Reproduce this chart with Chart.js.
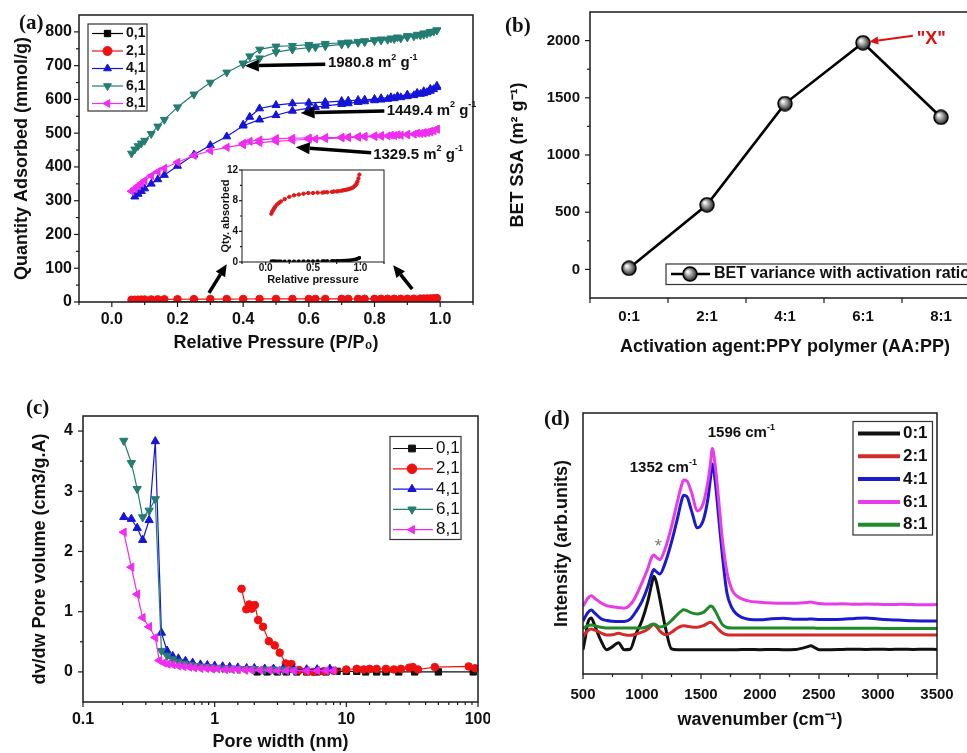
<!DOCTYPE html>
<html>
<head>
<meta charset="utf-8">
<title>BET / pore / Raman figure</title>
<script src="https://cdn.jsdelivr.net/npm/chart.js@4.4.0/dist/chart.umd.min.js"></script>
<style>
	body { margin: 0; width: 967px; height: 753px; overflow: hidden; background: #fff; position: relative; }
	canvas { position: absolute; }
	.tag { position: absolute; font: bold 21px "Liberation Serif", "DejaVu Serif", serif; color: #111; }
</style>
</head>
<body>
<canvas id="chartA" width="483" height="370" style="left:0;top:0"></canvas>
<canvas id="chartInset" width="176" height="127" style="left:214px;top:160px"></canvas>
<canvas id="chartB" width="510" height="370" style="left:483px;top:0"></canvas>
<canvas id="chartC" width="490" height="378" style="left:0;top:375px"></canvas>
<canvas id="chartD" width="477" height="378" style="left:490px;top:375px"></canvas>
<div class="tag" style="left:19px;top:10px">(a)</div>
<div class="tag" style="left:505px;top:13px">(b)</div>
<div class="tag" style="left:26px;top:395px">(c)</div>
<div class="tag" style="left:544px;top:406px">(d)</div>

<script>
// ---- (a) N2 isotherms: relative pressure grid, adsorption then desorption ----
var P_ADS = [0.06,0.07,0.08,0.09,0.10,0.12,0.14,0.16,0.20,0.25,0.30,0.35,0.40,0.45,0.50,0.55,0.60,0.62,0.65,0.70,0.72,0.75,0.77,0.80,0.82,0.84,0.86,0.88,0.90,0.92,0.94,0.95,0.96,0.97,0.98,0.99];
var P_DES = [0.99,0.97,0.95,0.93,0.90,0.87,0.85,0.82,0.80,0.77,0.75,0.72,0.70,0.65,0.60,0.55,0.50,0.45,0.42,0.40];

var ads01 = [0.10,0.10,0.10,0.10,0.10,0.10,0.10,0.10,0.10,0.11,0.11,0.11,0.12,0.12,0.12,0.13,0.13,0.13,0.14,0.15,0.15,0.16,0.17,0.18,0.19,0.20,0.21,0.23,0.25,0.28,0.32,0.35,0.38,0.42,0.48,0.55];
var ads21 = [6.3,6.6,6.8,7.0,7.2,7.5,7.7,7.9,8.2,8.5,8.7,8.8,8.9,9.0,9.0,9.05,9.05,9.1,9.1,9.15,9.2,9.2,9.25,9.3,9.35,9.4,9.45,9.5,9.6,9.7,9.9,10.0,10.2,10.5,10.9,11.4];
var ads41 = [null,312,320,328,336,350,363,376,403,436,464,490,522,540,553,566,574,577,581,586,588,592,594,597,599,601,603,606,609,612,616,618,621,625,630,636];
var des41 = [640,631,624,619,614,609,606,603,601,599,598,596,595,592,590,588,583,573,548,525];
var ads61 = [440,452,462,470,478,498,520,540,577,615,650,680,705,722,740,748,753,755,758,763,765,768,770,773,775,777,779,781,784,787,790,792,795,798,801,805];
var des61 = [805,800,796,792,788,784,781,778,776,773,771,769,767,765,762,759,757,748,728,707];
var ads81 = [328,336,344,352,360,374,386,396,414,434,448,458,466,472,476,479,482,483,484,486,487,488,489,490,491,492,493,494,495,497,499,500,502,504,507,512];
var des81 = [512,506,502,500,497,495,494,493,492,491,490,489,488,487,486,485,484,480,476,470];

// ---- (b) BET surface area vs activation ratio ----
var RATIOS = ['0:1','2:1','4:1','6:1','8:1'];
var BET_SSA = [10, 565, 1449.4, 1980.8, 1329.5];

// ---- (c) pore size distribution ----
var PW01 = [2.1,2.5,3.0,3.5,4.2,5.0,6.0,7.0,8.5,10,12,14,17,20,25,33,50,92];
var DV01 = [0,0,0,0,0,0,0,0,0.01,0.01,0.01,0,0,0,0,0,0,0];
var PW21 = [1.60,1.74,1.83,1.91,2.02,2.14,2.33,2.58,2.86,3.12,3.47,3.83,4.38,5.0,5.6,6.7,8.0,10,12,13.5,15,17,20,23,26,30,32,35,47,85,95];
var DV21 = [1.38,1.04,1.12,1.05,1.11,0.86,0.75,0.51,0.44,0.32,0.14,0.13,0.03,0.01,0.00,0.01,0.02,0.04,0.05,0.04,0.05,0.05,0.05,0.04,0.05,0.07,0.08,0.04,0.08,0.09,0.06];
var PW41 = [0.204,0.233,0.258,0.284,0.318,0.354,0.394,0.435,0.48,0.53,0.60,0.68,0.78,0.88,1.0,1.15,1.3,1.5,1.75,2.0,2.4,2.8,3.3,4.0,5.0,6.0,7.5];
var DV41 = [2.57,2.54,2.39,2.19,2.52,3.83,0.65,0.35,0.26,0.22,0.18,0.15,0.12,0.11,0.10,0.09,0.08,0.07,0.06,0.06,0.05,0.05,0.05,0.04,0.04,0.04,0.05];
var PW61 = [0.204,0.233,0.258,0.284,0.318,0.354,0.394,0.435,0.48,0.53,0.58,0.65,0.72,0.80,0.90,1.0,1.15,1.3,1.5,1.75,2.0,2.4,2.8,3.3,4.0];
var DV61 = [3.84,3.47,3.04,2.57,2.68,2.87,0.35,0.27,0.21,0.17,0.14,0.12,0.10,0.09,0.08,0.07,0.06,0.06,0.05,0.05,0.05,0.04,0.04,0.04,0.03];
var PW81 = [0.204,0.233,0.258,0.284,0.318,0.354,0.38,0.41,0.44,0.48,0.53,0.58,0.64,0.70,0.78,0.86,0.95,1.05,1.2,1.35,1.5,1.7,1.9,2.2,2.6,3.0,3.5,4.0,5.0,6.0,7.0,8.0];
var DV81 = [2.32,1.74,1.29,0.90,0.75,0.57,0.19,0.15,0.13,0.12,0.10,0.09,0.08,0.07,0.06,0.06,0.05,0.05,0.04,0.04,0.04,0.03,0.03,0.03,0.03,0.02,0.02,0.02,0.02,0.02,0.02,0.02];

// ---- (d) Raman spectra (arbitrary units, stacked) ----
var WN = [500,520,540,570,600,650,700,750,800,850,900,950,1000,1050,1080,1100,1120,1150,1200,1250,1300,1330,1352,1380,1420,1470,1520,1560,1580,1596,1620,1650,1680,1720,1760,1800,1900,2000,2100,2200,2300,2400,2430,2460,2500,2600,2700,2800,2900,3000,3100,3200,3300,3400,3500];
var RAMAN_01 = [9.3,14,19.5,21.5,18.5,13,9.3,10.5,12,9.3,9.5,15.5,20.5,28,34,37.5,35.5,29,17.5,9.6,9.3,9.3,9.3,9.3,9.3,9.3,9.3,9.3,9.3,9.3,9.3,9.3,9.3,9.3,9.3,9.3,9.4,9.3,9.4,9.3,9.4,10.4,10.8,10.2,9.3,9.3,9.4,9.5,9.4,9.5,9.4,9.5,9.4,9.5,9.4];
var RAMAN_21 = [14.2,15.5,16.5,17.2,16.8,15.8,14.9,15.0,15.6,15.0,14.8,15.3,16.0,17.2,18.5,19.0,18.3,16.5,15.0,16.0,17.6,18.3,18.5,18.3,18.0,17.9,18.5,19.5,19.8,19.5,18.5,17.0,15.8,15.0,14.9,14.9,14.9,14.9,14.9,14.9,14.9,14.9,14.9,14.9,14.9,14.9,14.9,14.9,14.9,14.9,14.9,14.9,14.9,14.9,14.9];
var RAMAN_41 = [20.3,22,23.5,24.5,23.3,21.3,20.5,20.2,20.1,20.1,21,24,27.8,33.5,38,40,39.3,38.3,43,50.5,59.5,65.5,68.5,68,62.5,56,59,67.5,75,80.5,74,60,46,31,25.5,23,21,20.8,21.2,21.4,21.0,21.0,21.1,21.0,20.9,20.9,21.0,21.3,21.5,21.1,20.8,20.6,20.4,20.3,20.3];
var RAMAN_61 = [26,27.5,29,30,29,27.3,26.2,25.8,25.5,25.2,26.5,30,35,40.5,44.5,45.6,44.8,43.8,48.5,56.5,66,71.5,74.3,74,69.5,62.5,65.5,74,80.5,86.4,80,66.5,52,39,32.5,30,28,27.5,27.2,27.1,27.1,27.4,27.6,27.3,27.0,26.8,26.9,26.7,26.8,26.7,26.6,26.7,26.6,26.5,26.6];
var RAMAN_81 = [17.5,18.0,18.5,18.8,18.5,17.9,17.6,17.6,17.6,17.6,17.6,17.6,17.6,18.2,19.0,19.2,18.8,18.0,18.6,20.5,22.8,24,24.6,24.3,23.4,23.0,23.6,25.3,26.1,25.8,24.2,21.5,19.0,17.8,17.6,17.6,17.6,17.6,17.6,17.6,17.6,17.6,17.6,17.6,17.5,17.5,17.5,17.5,17.5,17.5,17.4,17.4,17.4,17.4,17.4];

var FAMILY = '"Liberation Sans", Arial, Helvetica, sans-serif';
Chart.defaults.font.family = FAMILY;
Chart.defaults.color = '#111';

function pts(xs, ys) {
	var out = [];
	xs.forEach(function(x, i) {
		if (ys[i] !== null) out.push({ x: x, y: ys[i] });
	});
	return out;
}

function majorOnly(step, fmt) {
	return function(v) {
		var q = v / step;
		return Math.abs(q - Math.round(q)) < 1e-6 ? fmt(v) : '';
	};
}

function axis(o) {
	return {
		type: o.type || 'linear',
		min: o.min,
		max: o.max,
		offset: !!o.offset,
		grid: { display: false, drawTicks: false, offset: !!o.offset },
		border: { display: false },
		ticks: {
			display: o.showTicks !== false,
			stepSize: o.step,
			includeBounds: false,
			autoSkip: false,
			maxRotation: 0,
			padding: o.pad,
			color: '#111',
			font: { size: o.size || 16, weight: 'bold' },
			callback: o.label || function(v) { return this.getLabelForValue(v); }
		},
		title: {
			display: !!o.title,
			text: o.title,
			color: '#111',
			font: { size: o.tsize || 18, weight: 'bold' },
			padding: o.tpad
		},
		afterFit: function(s) {
			if (s.isHorizontal()) s.height = o.fit; else s.width = o.fit;
			s.paddingLeft = s.paddingRight = s.paddingTop = s.paddingBottom = 0;
		}
	};
}

// frame round the plot plus outward major / minor tick marks
var frameTicks = {
	id: 'frameTicks',
	afterDraw: function(chart, args, o) {
		var ctx = chart.ctx, a = chart.chartArea;
		var major = o.major || 5, minor = o.minor || 3;
		ctx.save();
		ctx.strokeStyle = '#1a1a1a';
		ctx.lineWidth = o.lineWidth || 1.5;
		ctx.strokeRect(a.left, a.top, a.right - a.left, a.bottom - a.top);
		ctx.lineWidth = 1.2;
		(o.axes || ['x', 'y']).forEach(function(id) {
			var s = chart.scales[id], marks = [];
			if (s.type === 'category') {
				for (var i = 0; i <= s.ticks.length; i++) marks.push({ p: s.getPixelForValue(i - 0.5), len: major });
			} else {
				s.ticks.forEach(function(t) {
					marks.push({ p: s.getPixelForValue(t.value), len: t.label === '' ? minor : major });
				});
			}
			marks.forEach(function(m) {
				if (id === 'x') {
					if (m.p < a.left - 0.5 || m.p > a.right + 0.5) return;
					ctx.beginPath(); ctx.moveTo(m.p, a.bottom); ctx.lineTo(m.p, a.bottom + m.len); ctx.stroke();
				} else {
					if (m.len === minor && (Math.abs(m.p - a.top) < 1 || Math.abs(m.p - a.bottom) < 1)) return;
					ctx.beginPath(); ctx.moveTo(a.left, m.p); ctx.lineTo(a.left - m.len, m.p); ctx.stroke();
				}
			});
		});
		ctx.restore();
	}
};

// legend drawn inside the plot, in a thin box
var boxLegend = {
	id: 'boxLegend',
	afterDraw: function(chart, args, o) {
		if (!o.box) return;
		var ctx = chart.ctx;
		ctx.save();
		ctx.fillStyle = '#fff';
		ctx.fillRect(o.box[0], o.box[1], o.box[2], o.box[3]);
		ctx.strokeStyle = '#333';
		ctx.lineWidth = 1.2;
		ctx.strokeRect(o.box[0], o.box[1], o.box[2], o.box[3]);
		ctx.textBaseline = 'middle';
		ctx.textAlign = 'left';
		chart.data.datasets.forEach(function(ds, i) {
			var y = o.first + i * o.rowH;
			ctx.strokeStyle = ds.borderColor;
			ctx.lineWidth = o.lineWidth || ds.borderWidth;
			ctx.beginPath(); ctx.moveTo(o.line[0], y); ctx.lineTo(o.line[1], y); ctx.stroke();
			if (o.markerR) {
				ctx.fillStyle = ds.pointBackgroundColor;
				ctx.strokeStyle = ds.pointBorderColor || ds.borderColor;
				ctx.lineWidth = 1;
				Chart.helpers.drawPoint(ctx, { pointStyle: ds.pointStyle, rotation: ds.pointRotation || 0, radius: o.markerR, borderWidth: 1 }, o.marker, y);
			}
			ctx.fillStyle = '#111';
			ctx.font = o.font;
			ctx.fillText(ds.label, o.text, y);
		});
		ctx.restore();
	}
};

function drawArrow(ctx, x0, y0, x1, y1, w, hl, hw, color) {
	var ang = Math.atan2(y1 - y0, x1 - x0);
	var bx = x1 - hl * Math.cos(ang), by = y1 - hl * Math.sin(ang);
	ctx.strokeStyle = color; ctx.fillStyle = color; ctx.lineWidth = w;
	ctx.beginPath(); ctx.moveTo(x0, y0); ctx.lineTo(bx, by); ctx.stroke();
	ctx.beginPath(); ctx.moveTo(x1, y1);
	ctx.lineTo(bx + hw * Math.sin(ang), by - hw * Math.cos(ang));
	ctx.lineTo(bx - hw * Math.sin(ang), by + hw * Math.cos(ang));
	ctx.closePath(); ctx.fill();
}

// arrows and labels placed in data coordinates
var notes = {
	id: 'notes',
	afterDatasetsDraw: function(chart, args, o) {
		var ctx = chart.ctx, sx = chart.scales.x, sy = chart.scales.y;
		ctx.save();
		(o.arrows || []).forEach(function(a) {
			drawArrow(ctx, sx.getPixelForValue(a.from[0]), sy.getPixelForValue(a.from[1]),
				sx.getPixelForValue(a.to[0]), sy.getPixelForValue(a.to[1]),
				a.width || 3.5, a.head || 14, a.half || 6, a.color || '#000');
		});
		(o.texts || []).forEach(function(t) {
			var x = sx.getPixelForValue(t.at[0]), y = sy.getPixelForValue(t.at[1]);
			ctx.fillStyle = t.color || '#111';
			ctx.textBaseline = 'middle';
			ctx.textAlign = 'left';
			t.parts.forEach(function(p) {
				var sup = p[1];
				ctx.font = (t.weight || 'bold') + ' ' + (sup ? Math.round(t.size * 0.6) : t.size) + 'px ' + FAMILY;
				ctx.fillText(p[0], x, sup ? y - t.size * 0.38 : y);
				x += ctx.measureText(p[0]).width;
			});
		});
		ctx.restore();
	}
};

Chart.register(frameTicks, boxLegend, notes);

function sphere(r) {
	var c = document.createElement('canvas');
	c.width = c.height = 2 * r + 2;
	var g = c.getContext('2d');
	var grad = g.createRadialGradient(r + 1 - r * 0.35, r + 1 - r * 0.35, 0.5, r + 1, r + 1, r);
	grad.addColorStop(0, '#ffffff');
	grad.addColorStop(0.45, '#a0a0a0');
	grad.addColorStop(1, '#222');
	g.fillStyle = grad;
	g.beginPath(); g.arc(r + 1, r + 1, r, 0, Math.PI * 2); g.fill();
	g.lineWidth = 1.5; g.strokeStyle = '#000'; g.stroke();
	return c;
}

function series(label, color, data, style, rot, r, order, lw) {
	return {
		label: label, data: data, borderColor: color, backgroundColor: color,
		pointBackgroundColor: color, pointBorderColor: color,
		pointStyle: style, pointRotation: rot || 0, pointRadius: r, pointBorderWidth: 1,
		borderWidth: lw || 1.2, order: order, tension: 0
	};
}

var base = {
	responsive: false,
	devicePixelRatio: 1,
	animation: false,
	events: []
};

var C_BLACK = '#000000', C_RED = '#f01010', C_BLUE = '#1515d8', C_TEAL = '#237d72', C_MAG = '#f02cf0';

// (a)
new Chart(document.getElementById('chartA'), {
	type: 'line',
	data: {
		datasets: [
			series('0,1', C_BLACK, pts(P_ADS, ads01), 'rect', 0, 4, 5),
			series('2,1', C_RED, pts(P_ADS, ads21), 'circle', 0, 3.8, 4),
			series('4,1', C_BLUE, pts(P_ADS.concat(P_DES), ads41.concat(des41)), 'triangle', 0, 4.6, 3),
			series('6,1', C_TEAL, pts(P_ADS.concat(P_DES), ads61.concat(des61)), 'triangle', 180, 4.6, 2),
			series('8,1', C_MAG, pts(P_ADS.concat(P_DES), ads81.concat(des81)), 'triangle', 270, 4.6, 1)
		]
	},
	options: Object.assign({}, base, {
		layout: { padding: { left: 0, top: 15, right: 10, bottom: 0 } },
		scales: {
			x: axis({ min: -0.1, max: 1.1, step: 0.1, pad: 8, size: 16, fit: 68, tpad: 16,
				title: 'Relative Pressure (P/P\u2080)', label: majorOnly(0.2, function(v) { return v.toFixed(1); }) }),
			y: axis({ min: 0, max: 850, step: 50, pad: 7, size: 16, fit: 79, tpad: 11,
				title: 'Quantity Adsorbed (mmol/g)', label: majorOnly(100, function(v) { return String(v); }) })
		},
		plugins: {
			legend: { display: false }, tooltip: { enabled: false },
			boxLegend: { box: [88, 24, 59, 87], first: 33.5, rowH: 17.5, line: [92, 123], marker: 107.5, markerR: 4.5,
				text: 126, font: 'bold 14px ' + FAMILY, lineWidth: 1.2 },
			notes: {
				arrows: [
					{ from: [0.65, 704], to: [0.405, 700] },
					{ from: [0.83, 566], to: [0.575, 560] },
					{ from: [0.79, 442], to: [0.56, 458] },
					{ from: [0.296, 27], to: [0.35, 112], width: 3.5, head: 12, half: 5.5 },
					{ from: [0.915, 38], to: [0.857, 109], width: 3.5, head: 12, half: 5.5 }
				],
				texts: [
					{ at: [0.658, 707], size: 15, parts: [['1980.8 m'], ['2', 1], [' g'], ['-1', 1]] },
					{ at: [0.837, 567], size: 15, parts: [['1449.4 m'], ['2', 1], [' g'], ['-1', 1]] },
					{ at: [0.796, 437], size: 15, parts: [['1329.5 m'], ['2', 1], [' g'], ['-1', 1]] }
				]
			}
		}
	})
});

// (a) inset
new Chart(document.getElementById('chartInset'), {
	type: 'line',
	data: {
		datasets: [
			series('0,1', C_BLACK, pts(P_ADS, ads01), 'rect', 0, 1.6, 2, 1),
			series('2,1', '#e01818', pts(P_ADS, ads21), 'circle', 0, 1.7, 1, 1)
		]
	},
	options: Object.assign({}, base, {
		layout: { padding: { left: 0, top: 10, right: 6, bottom: 0 } },
		scales: {
			x: axis({ min: -0.25, max: 1.25, step: 0.25, pad: 0, size: 10, fit: 25, tpad: 0, tsize: 11,
				title: 'Relative pressure', label: majorOnly(0.5, function(v) { return v.toFixed(1); }) }),
			y: axis({ min: 0, max: 12, step: 2, pad: 4, size: 10, fit: 28, tpad: 5, tsize: 11,
				title: 'Qty. absorbed', label: majorOnly(4, function(v) { return String(v); }) })
		},
		plugins: {
			legend: { display: false }, tooltip: { enabled: false },
			frameTicks: { major: 3, minor: 2, lineWidth: 1 }
		}
	})
});

// (b)
var ball = sphere(7);
new Chart(document.getElementById('chartB'), {
	type: 'line',
	data: {
		labels: RATIOS,
		datasets: [{
			label: 'BET variance with activation ratio', data: BET_SSA,
			borderColor: '#000', borderWidth: 2.6, pointStyle: ball, pointRadius: 7,
			pointBackgroundColor: '#999', pointBorderColor: '#000', tension: 0
		}]
	},
	options: Object.assign({}, base, {
		layout: { padding: { left: 0, top: 12, right: 13, bottom: 0 } },
		scales: {
			x: axis({ type: 'category', offset: true, pad: 10, size: 15, fit: 72, tpad: 12,
				title: 'Activation agent:PPY polymer (AA:PP)' }),
			y: axis({ min: -250, max: 2250, step: 250, pad: 10, size: 15, fit: 107, tpad: 24,
				title: 'BET SSA (m\u00B2 g\u207B\u00B9)', label: majorOnly(500, function(v) { return String(v); }) })
		},
		plugins: {
			legend: { display: false }, tooltip: { enabled: false },
			boxLegend: { box: [183, 264, 340, 20.5], first: 274, rowH: 20, line: [188, 227], marker: 207, markerR: 6,
				text: 231, font: 'bold 16px ' + FAMILY, lineWidth: 2.6 },
			notes: {
				arrows: [{ from: [3.64, 2042], to: [3.08, 1990], width: 2, head: 9, half: 4, color: '#e01010' }],
				texts: [{ at: [3.69, 2015], size: 18, color: '#e01010', parts: [['"X"']] }]
			}
		}
	})
});

// (c)
new Chart(document.getElementById('chartC'), {
	type: 'line',
	data: {
		datasets: [
			series('0,1', '#111', pts(PW01, DV01), 'rect', 0, 4.5, 5),
			series('2,1', C_RED, pts(PW21, DV21), 'circle', 0, 3.8, 4),
			series('4,1', C_BLUE, pts(PW41, DV41), 'triangle', 0, 4.8, 3),
			series('6,1', C_TEAL, pts(PW61, DV61), 'triangle', 180, 4.8, 2),
			series('8,1', C_MAG, pts(PW81, DV81), 'triangle', 270, 4.8, 1)
		]
	},
	options: Object.assign({}, base, {
		layout: { padding: { left: 0, top: 41, right: 12, bottom: 0 } },
		scales: {
			x: axis({ type: 'logarithmic', min: 0.1, max: 100, pad: 8, size: 16, fit: 51, tpad: 0,
				title: 'Pore width (nm)',
				label: function(v) {
					var l = Math.log10(v);
					return Math.abs(l - Math.round(l)) < 1e-6 ? String(+v.toPrecision(3)) : '';
				} }),
			y: axis({ min: -0.5, max: 4.25, step: 0.5, pad: 10, size: 16, fit: 83, tpad: 29,
				title: 'dv/dw Pore volume (cm3/g.A)', label: majorOnly(1, function(v) { return String(v); }) })
		},
		plugins: {
			legend: { display: false }, tooltip: { enabled: false },
			boxLegend: { box: [390, 61.5, 71, 103], first: 73.5, rowH: 20.3, line: [393, 433], marker: 412, markerR: 4.8,
				text: 436, font: '17px ' + FAMILY, lineWidth: 1.2 }
		}
	})
});

// (d)
function spectrum(label, color, ys, order) {
	return {
		label: label, data: pts(WN, ys), borderColor: color, borderWidth: 3, pointRadius: 0,
		tension: 0.4, cubicInterpolationMode: 'monotone', order: order
	};
}

new Chart(document.getElementById('chartD'), {
	type: 'line',
	data: {
		datasets: [
			spectrum('0:1', '#111111', RAMAN_01, 5),
			spectrum('2:1', '#d42a2a', RAMAN_21, 4),
			spectrum('4:1', '#1a1ad0', RAMAN_41, 2),
			spectrum('6:1', '#e83ce8', RAMAN_61, 1),
			spectrum('8:1', '#1f8a2a', RAMAN_81, 3)
		]
	},
	options: Object.assign({}, base, {
		layout: { padding: { left: 0, top: 38, right: 30, bottom: 0 } },
		scales: {
			x: axis({ min: 500, max: 3500, step: 250, pad: 12, size: 15, fit: 79, tpad: 22,
				title: 'wavenumber (cm\u207B\u00B9)', label: majorOnly(500, function(v) { return String(v); }) }),
			y: axis({ min: 0, max: 100, step: 10, showTicks: false, fit: 93, tpad: 61,
				title: 'Intensity (arb.units)' })
		},
		plugins: {
			legend: { display: false }, tooltip: { enabled: false },
			frameTicks: { axes: ['x'] },
			boxLegend: { box: [363, 46.5, 79.5, 113.5], first: 58.5, rowH: 22.8, line: [368, 410],
				text: 413, font: 'bold 17px ' + FAMILY, lineWidth: 4 },
			notes: {
				texts: [
					{ at: [1557, 92.2], size: 15, parts: [['1596 cm'], ['-1', 1]] },
					{ at: [896, 78.9], size: 15, parts: [['1352 cm'], ['-1', 1]] },
					{ at: [1108, 48.7], size: 18, weight: 'normal', color: '#777', parts: [['*']] }
				]
			}
		}
	})
});
</script>
</body>
</html>
